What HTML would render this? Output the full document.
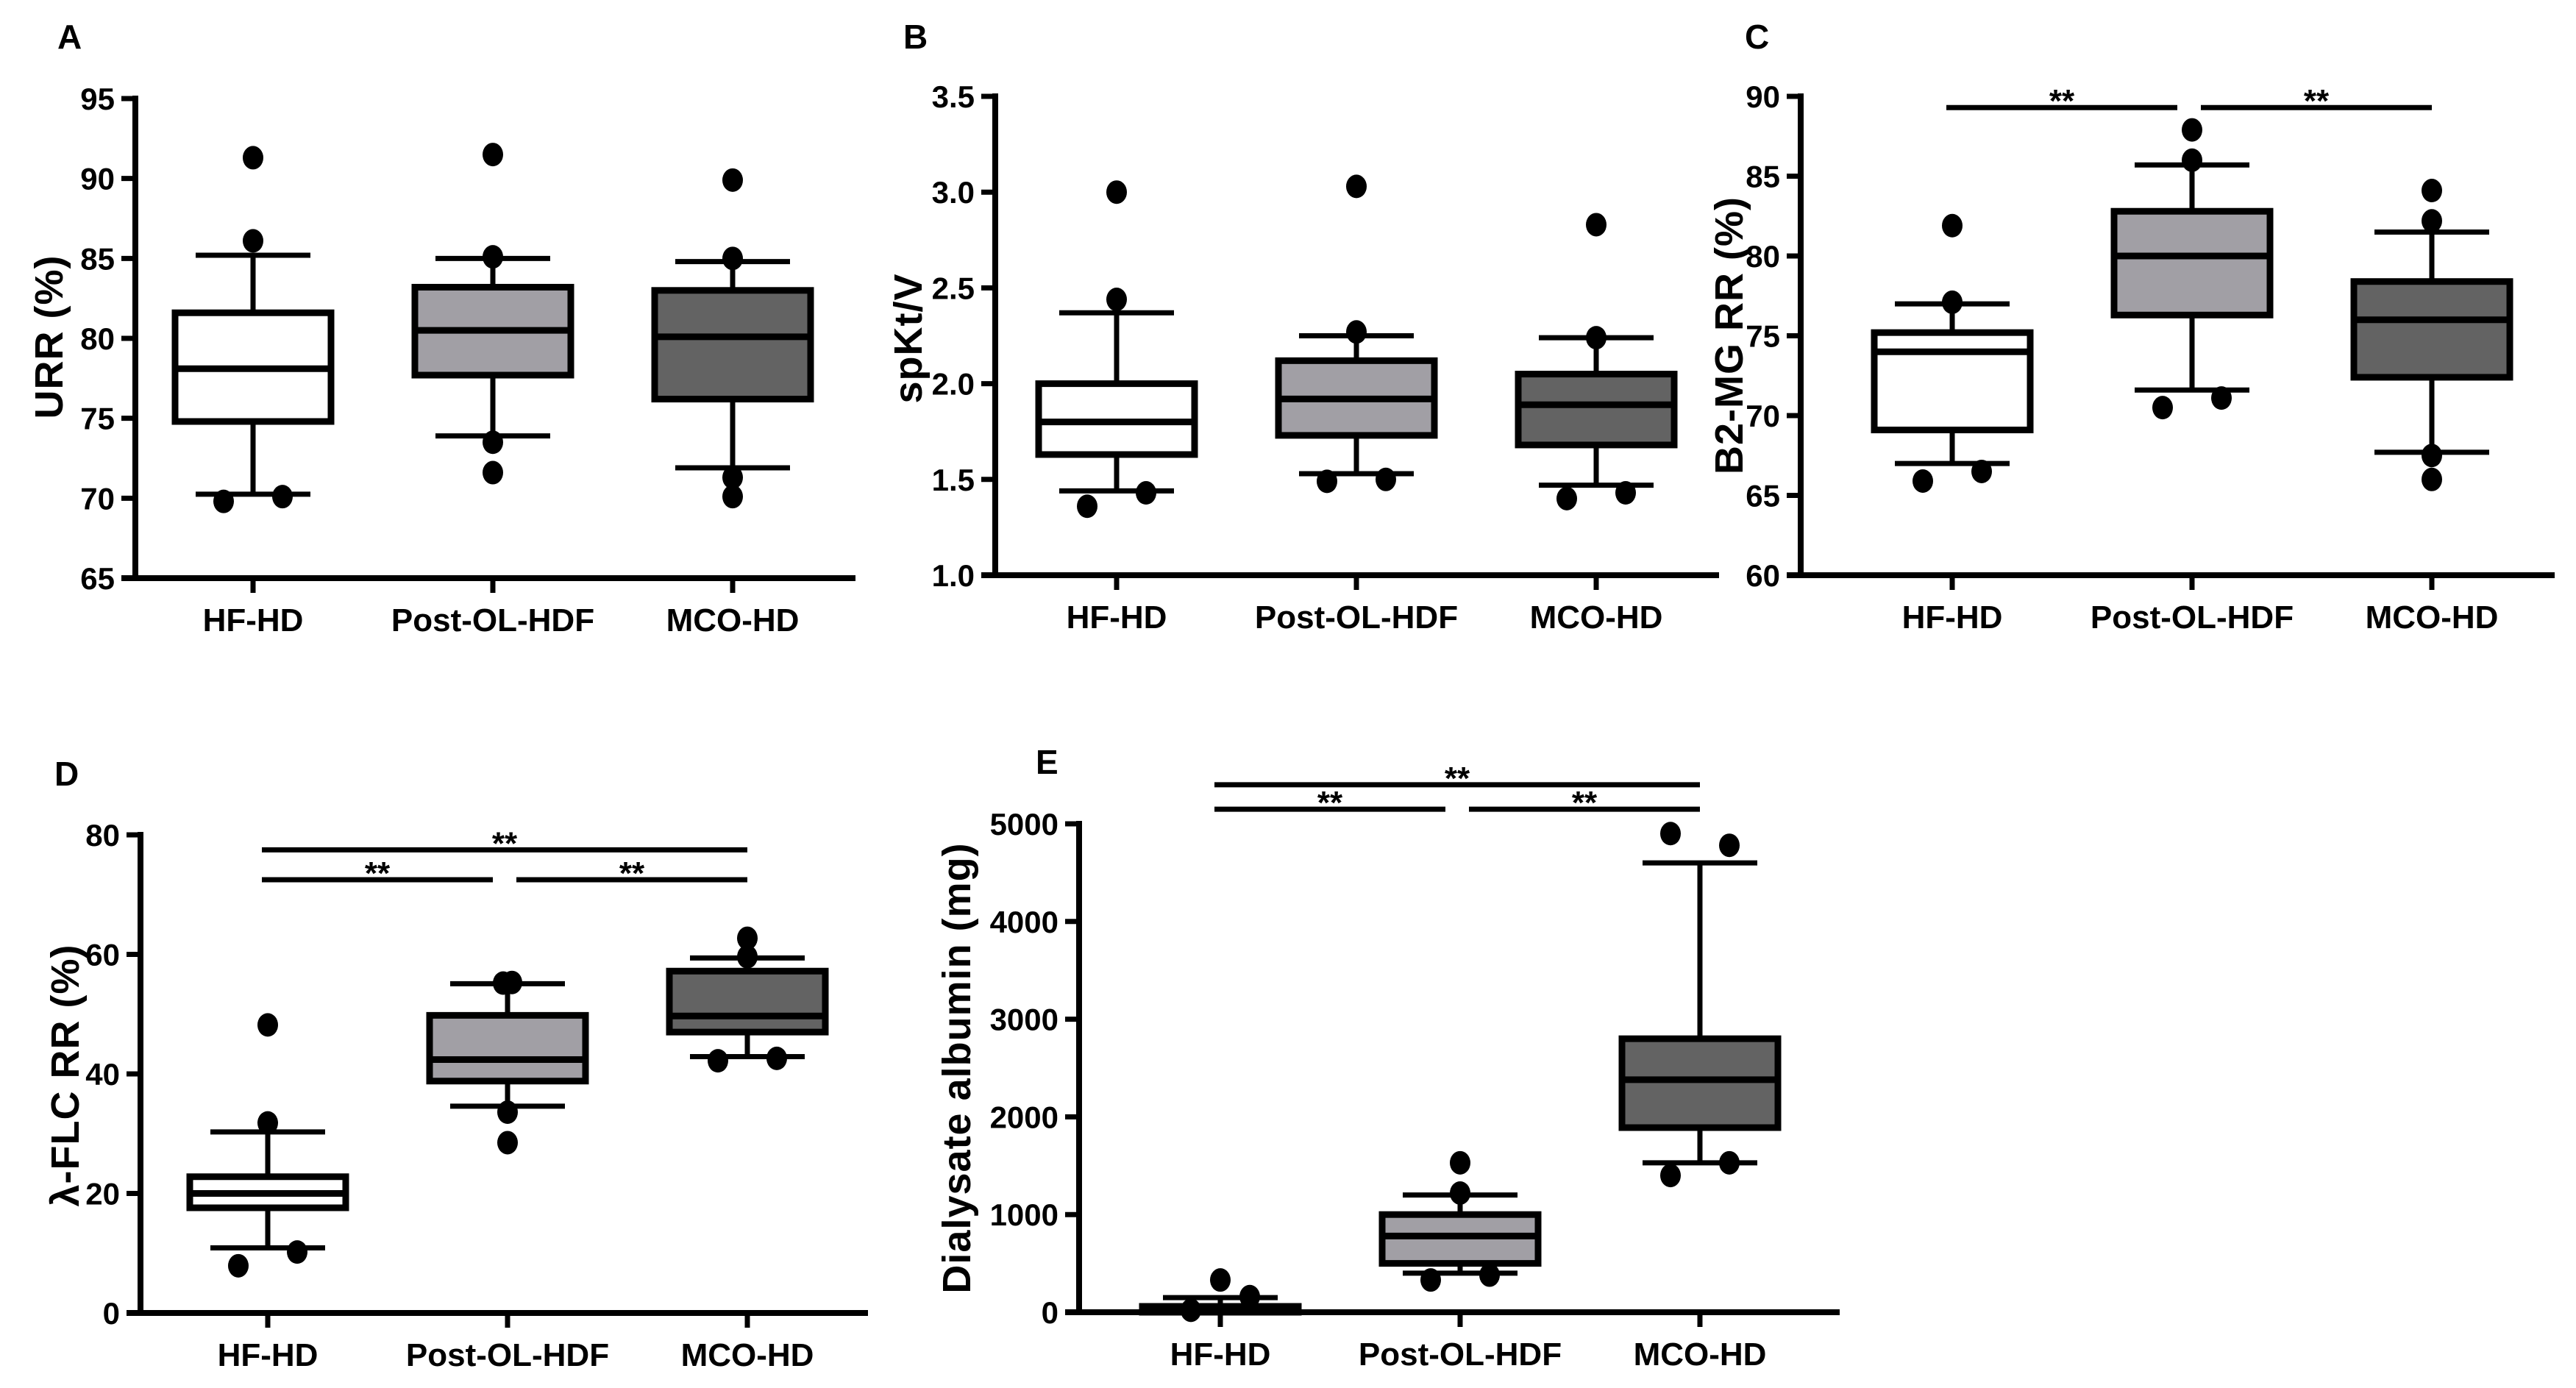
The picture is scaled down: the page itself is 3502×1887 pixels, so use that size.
<!DOCTYPE html>
<html><head><meta charset="utf-8"><style>
html,body{margin:0;padding:0;background:#fff;}
svg{display:block;font-family:"Liberation Sans",Arial,sans-serif;font-weight:bold;}
</style></head><body>
<svg id="fig" width="3502" height="1887" viewBox="0 0 3502 1887" xmlns="http://www.w3.org/2000/svg"></svg>
<script>
const categories = ["HF-HD","Post-OL-HDF","MCO-HD"];
const fills = ["#ffffff","#a19fa5","#636363"];
// box stats per group: [q1, median, q3, whiskerLow, whiskerHigh]
const urrBoxes = [[74.8,78.1,81.6,70.25,85.2],[77.7,80.5,83.2,73.9,85.0],[76.2,80.1,83.0,71.9,84.8]];
const urrOutliers = [[[0,91.3],[0,86.1],[-40,69.8],[40,70.1]],[[0,91.5],[0,85.1],[0,73.5],[0,71.6]],[[0,89.9],[0,85.0],[0,71.3],[0,70.1]]];
const ktvBoxes = [[1.63,1.80,2.00,1.44,2.37],[1.73,1.92,2.12,1.53,2.25],[1.68,1.89,2.05,1.47,2.24]];
const ktvOutliers = [[[0,3.0],[0,2.44],[-40,1.36],[40,1.43]],[[0,3.03],[0,2.27],[-40,1.49],[40,1.50]],[[0,2.83],[0,2.24],[-40,1.40],[40,1.43]]];
const b2mBoxes = [[69.1,74.0,75.2,67.0,77.0],[76.3,80.0,82.8,71.6,85.7],[72.4,76.0,78.4,67.7,81.5]];
const b2mOutliers = [[[0,81.9],[0,77.1],[-40,65.9],[40,66.5]],[[0,87.9],[0,86.0],[-40,70.5],[40,71.1]],[[0,84.1],[0,82.2],[0,67.5],[0,66.0]]];
const flcBoxes = [[17.6,20.0,22.8,10.9,30.3],[38.8,42.4,49.8,34.6,55.1],[47.0,49.7,57.2,42.9,59.4]];
const flcOutliers = [[[0,48.2],[0,31.8],[-40,7.9],[40,10.2]],[[-6,55.2],[6,55.3],[0,33.6],[0,28.5]],[[0,62.7],[0,59.6],[-40,42.2],[40,42.6]]];
const albBoxes = [[0,30,60,0,150],[500,780,1000,400,1200],[1890,2380,2800,1530,4600]];
const albOutliers = [[[0,330],[40,160],[-40,20]],[[0,1530],[0,1220],[-40,330],[40,380]],[[-40,4900],[40,4780],[40,1530],[-40,1400]]];
const urrTicks = [65,70,75,80,85,90,95];
const ktvTicks = ["1.0","1.5","2.0","2.5","3.0","3.5"];
const b2mTicks = [60,65,70,75,80,85,90];
const flcTicks = [0,20,40,60,80];
const albTicks = [0,1000,2000,3000,4000,5000];
// significance brackets: [fromGroup, toGroup, y-value, level]
const b2mSig = [[0,1,89.3,0],[1,2,89.3,0]];
const flcSig = [[0,2,77.5,1],[0,1,72.5,0],[1,2,72.5,0]];
const albSig = [[0,2,5400,1],[0,1,5150,0],[1,2,5150,0]];

const NS="http://www.w3.org/2000/svg";
const svg=document.getElementById('fig');
function mk(tag,attrs,parent){const e=document.createElementNS(NS,tag);for(const k in attrs)e.setAttribute(k,attrs[k]);(parent||svg).appendChild(e);return e;}

const panels=[
 {id:'a',letter:'A',lx:78,ly:66,ax:184,x1:1163,yTop:134,yBot:786,min:65,max:95,ticks:urrTicks,boxes:urrBoxes,out:urrOutliers,cx0:344,title:'URR (%)',tx:66,ty:458,sig:[]},
 {id:'b',letter:'B',lx:1228,ly:66,ax:1353,x1:2337,yTop:131,yBot:782,min:1.0,max:3.5,ticks:ktvTicks,boxes:ktvBoxes,out:ktvOutliers,cx0:1518,title:'spKt/V',tx:1234,ty:460,sig:[]},
 {id:'c',letter:'C',lx:2372,ly:66,ax:2448,x1:3473,yTop:131,yBot:782,min:60,max:90,ticks:b2mTicks,boxes:b2mBoxes,out:b2mOutliers,cx0:2654,title:'B2-MG RR (%)',tx:2350,ty:456,sig:b2mSig},
 {id:'d',letter:'D',lx:74,ly:1068,ax:191,x1:1180,yTop:1135,yBot:1785,min:0,max:80,ticks:flcTicks,boxes:flcBoxes,out:flcOutliers,cx0:364,title:'λ-FLC RR (%)',tx:88,ty:1462,sig:flcSig},
 {id:'e',letter:'E',lx:1408,ly:1052,ax:1467,x1:2501,yTop:1120,yBot:1784,min:0,max:5000,ticks:albTicks,boxes:albBoxes,out:albOutliers,cx0:1659,title:'Dialysate albumin (mg)',tx:1300,ty:1452,sig:albSig}
];
const SP=326, BH=106, CH=78, R=14;

panels.forEach(p=>{
 const g=mk('g',{});
 
 
 const y=v=>p.yBot-(parseFloat(v)-p.min)/(p.max-p.min)*(p.yBot-p.yTop);
 const x=i=>p.cx0+i*SP;
 const L=mk('text',{x:p.lx,y:p.ly,'font-size':46},g);L.textContent=p.letter;
 
 
 const ya=mk('line',{x1:p.ax,y1:p.yTop-4,x2:p.ax,y2:p.yBot+4,stroke:'#000','stroke-width':8},g);
 
 
 const xa=mk('line',{x1:p.ax-19,y1:p.yBot,x2:p.x1,y2:p.yBot,stroke:'#000','stroke-width':8},g);
 
 
 p.ticks.forEach(t=>{
  const ty=y(t);
  mk('line',{x1:p.ax-19,y1:ty,x2:p.ax,y2:ty,stroke:'#000','stroke-width':7},g);
  const tl=mk('text',{x:p.ax-28,y:ty+15,'font-size':42,'text-anchor':'end'},g);tl.textContent=t;
  
  
 });
 const yt=mk('text',{x:0,y:0,'font-size':54,'text-anchor':'middle','letter-spacing':1,transform:`translate(${p.tx+19},${p.ty}) rotate(-90)`},g);yt.textContent=p.title;
 
 
 categories.forEach((c,i)=>{
  const cx=x(i);
  mk('line',{x1:cx,y1:p.yBot,x2:cx,y2:p.yBot+20,stroke:'#000','stroke-width':7},g);
  const xl=mk('text',{x:cx,y:p.yBot+72,'font-size':44,'text-anchor':'middle'},g);xl.textContent=c;
  
  
  const b=p.boxes[i];
  const wg=mk('g',{stroke:'#000','stroke-width':7},g);
  
  
  mk('line',{x1:cx,y1:y(b[4]),x2:cx,y2:y(b[3])},wg);
  mk('line',{x1:cx-CH,y1:y(b[4]),x2:cx+CH,y2:y(b[4])},wg);
  mk('line',{x1:cx-CH,y1:y(b[3]),x2:cx+CH,y2:y(b[3])},wg);
  const bx=mk('rect',{x:cx-BH,y:y(b[2]),width:2*BH,height:Math.max(0,y(b[0])-y(b[2])),fill:fills[i],stroke:'#000','stroke-width':9},g);
  
  
  const md=mk('line',{x1:cx-BH,y1:y(b[1]),x2:cx+BH,y2:y(b[1]),stroke:'#000','stroke-width':9},g);
  
  
  p.out[i].forEach(o=>{
   const d=mk('ellipse',{cx:cx+o[0],cy:y(o[1]),rx:R,ry:R+2,fill:'#000'},g);
   
   
  });
 });
 p.sig.forEach(s=>{
  const sy=y(s[2]);
  const xa1=x(s[0])-8+(s[0]>0&&s[3]===0?20:0), xb=x(s[1])-(s[3]===0&&s[1]===1?20:0);
  const sl=mk('line',{x1:xa1,y1:sy,x2:xb,y2:sy,stroke:'#000','stroke-width':7},g);
  
  
  const st=mk('text',{x:(xa1+xb)/2,y:sy+6,'font-size':44,'text-anchor':'middle'},g);st.textContent='**';
  
  
 });
});
</script>
</body></html>
